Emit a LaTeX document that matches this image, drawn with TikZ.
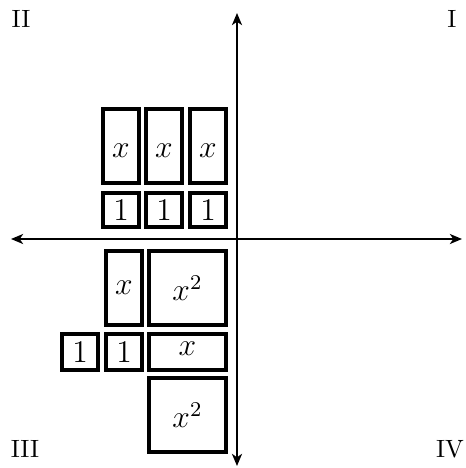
\documentclass[tikz,border=0pt]{standalone}
\usetikzlibrary{arrows.meta}
\begin{document}
\begin{tikzpicture}[x=0.38pt,y=-0.38pt,
  tile/.style={draw,line width=1.25pt},
  lbl/.style={font=\fontsize{11.5}{13}\selectfont},
  axis/.style={line width=1pt,{Stealth[length=4.6pt,width=3.8pt,inset=1.3pt]}-{Stealth[length=4.6pt,width=3.8pt,inset=1.3pt]}},
  quad/.style={font=\fontsize{9.5}{11}\selectfont}]
\useasboundingbox (0,0) rectangle (466,468);
% axes
\coordinate (L) at (11,239);
\coordinate (R) at (462,239);
\coordinate (T) at (237,13);
\coordinate (B) at (237,466);
\draw[axis] (L) -- (R);
\draw[axis] (B) -- (T);
% quadrant labels
\node[quad] (q2) at (21,19) {II};
\node[quad] (q1) at (452,19) {I};
\node[quad] (q3) at (25,449) {III};
\node[quad] (q4) at (450,449) {IV};
% upper tiles: three x and three units
\draw[tile] (103,109) rectangle node[lbl,yshift=-1.8pt] (xa) {$x$} (139,183);
\draw[tile] (146,109) rectangle node[lbl,yshift=-1.8pt] (xb) {$x$} (182,183);
\draw[tile] (190,109) rectangle node[lbl,yshift=-1.8pt] (xc) {$x$} (226,183);
\draw[tile] (103,193) rectangle node[lbl] (ua) {$1$} (139,227);
\draw[tile] (146,193) rectangle node[lbl] (ub) {$1$} (182,227);
\draw[tile] (190,193) rectangle node[lbl] (uc) {$1$} (226,227);
% lower tiles
\draw[tile] (106,251) rectangle node[lbl] (xd) {$x$} (142,325);
\draw[tile] (149,251) rectangle node[lbl] (sa) {$x^2$} (226,325);
\draw[tile] (62,334) rectangle node[lbl] (ud) {$1$} (98,370);
\draw[tile] (106,334) rectangle node[lbl] (ue) {$1$} (142,370);
\draw[tile] (149,334) rectangle node[lbl,yshift=1.2pt] (xe) {$x$} (226,370);
\draw[tile] (149,378) rectangle node[lbl] (sb) {$x^2$} (226,452);
\end{tikzpicture}
\end{document}
